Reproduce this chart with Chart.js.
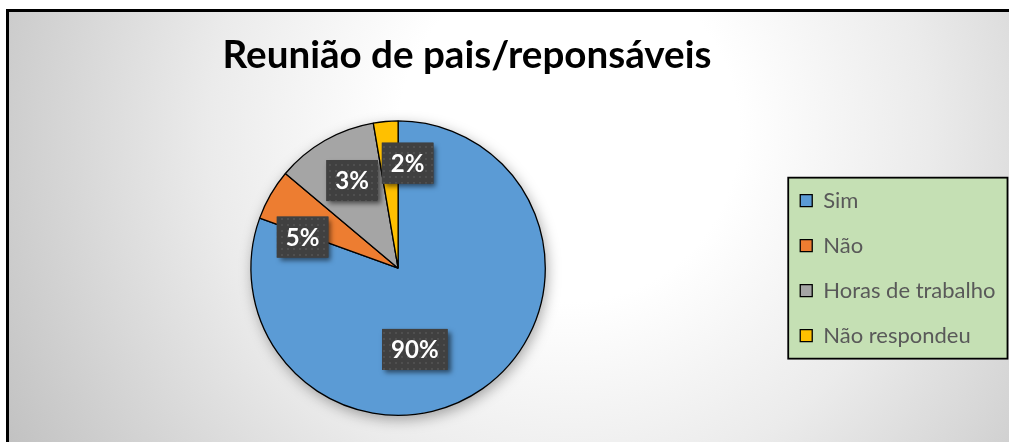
<!DOCTYPE html>
<html lang="pt">
<head>
<meta charset="utf-8">
<title>Reunião de pais/reponsáveis</title>
<script src="https://cdn.jsdelivr.net/npm/chart.js@4.4.0/dist/chart.umd.min.js"></script>
<style>
html,body{margin:0;padding:0;background:#fff;width:1009px;height:442px;overflow:hidden;}
#moldura{position:absolute;left:6px;top:9px;width:1010px;height:440px;
  border-left:3px solid #000;border-top:3px solid #000;
  background:radial-gradient(circle at 560px 120px,#ffffff 0px,#ffffff 170px,#ebebeb 360px,#c2c2c2 640px);}
#caixa{position:absolute;left:9px;top:12px;width:1000px;height:430px;}
</style>
</head>
<body>
<div id="moldura"></div>
<div id="caixa"><canvas id="grafico"></canvas></div>
<script>
(function(){
'use strict';

// dados
var categorias = ['Sim', 'Não', 'Horas de trabalho', 'Não respondeu'];
var fatias = [80.6, 5.6, 11.2, 2.7];          // tamanho visual de cada fatia
var rotulos = ['90%', '5%', '3%', '2%'];      // texto dos rótulos
var cores = ['#5b9bd5', '#ed7d31', '#a5a5a5', '#ffc000'];
var titulo = 'Reunião de pais/reponsáveis';

var FONTE = 'Lato';

// padrão pontilhado dos rótulos
function padraoPontos(ctx) {
  var c = document.createElement('canvas');
  c.width = 6; c.height = 6;
  var g = c.getContext('2d');
  g.fillStyle = '#404040';
  g.fillRect(0,0,6,6);
  g.fillStyle = '#4f4f4f';
  g.fillRect(2,2,2,2);
  return ctx.createPattern(c, 'repeat');
}

var sombraPizza = {
  id: 'sombraPizza',
  beforeDatasetsDraw: function(chart){
    var arc = chart.getDatasetMeta(0).data[0];
    if (!arc) return;
    var ctx = chart.ctx;
    ctx.save();
    ctx.shadowColor = 'rgba(0,0,0,0.35)';
    ctx.shadowBlur = 14;
    ctx.shadowOffsetX = 2;
    ctx.shadowOffsetY = 4;
    ctx.fillStyle = '#ffffff';
    ctx.beginPath();
    ctx.arc(arc.x, arc.y, arc.outerRadius, 0, Math.PI*2);
    ctx.fill();
    ctx.restore();
  }
};

var caixaLegenda = {
  id: 'caixaLegenda',
  beforeDraw: function(chart, args, opts){
    var hb = chart.legend && chart.legend.legendHitBoxes;
    if (!hb || !hb.length) return;
    var l = Infinity, t = Infinity, r = -Infinity, b = -Infinity;
    hb.forEach(function(h){
      l = Math.min(l, h.left); t = Math.min(t, h.top);
      r = Math.max(r, h.left + h.width); b = Math.max(b, h.top + h.height);
    });
    var m = opts.margem;
    var ctx = chart.ctx;
    ctx.save();
    ctx.fillStyle = '#c5e0b4';
    ctx.strokeStyle = '#000';
    ctx.lineWidth = 1.8;
    ctx.fillRect(l - m, t - m, r - l + 2*m, b - t + 2*m);
    ctx.strokeRect(l - m, t - m, r - l + 2*m, b - t + 2*m);
    ctx.restore();
  }
};

var moverTitulo = {
  id: 'moverTitulo',
  afterLayout: function(chart, args, opts){
    if (chart.titleBlock) chart.titleBlock.right = opts.direita;
  }
};

var rotulosPizza = {
  id: 'rotulosPizza',
  afterDatasetsDraw: function(chart, args, opts){
    var ctx = chart.ctx;
    var meta = chart.getDatasetMeta(0);
    var pad = padraoPontos(ctx);
    ctx.save();
    ctx.font = 'bold ' + opts.tamanho + 'px ' + FONTE;
    meta.data.forEach(function(arc, i){
      var meio = (arc.startAngle + arc.endAngle) / 2;
      var r = arc.outerRadius * opts.raio;
      var x = arc.x + Math.cos(meio) * r + opts.ajuste[i][0];
      var y = arc.y + Math.sin(meio) * r + opts.ajuste[i][1];
      var txt = rotulos[i];
      var w = ctx.measureText(txt).width + 2 * opts.folga;
      var h = opts.altura;
      ctx.save();
      ctx.shadowColor = 'rgba(0,0,0,0.55)';
      ctx.shadowBlur = 5;
      ctx.shadowOffsetX = 3;
      ctx.shadowOffsetY = 3;
      ctx.fillStyle = '#404040';
      ctx.fillRect(x - w/2, y - h/2, w, h);
      ctx.restore();
      ctx.fillStyle = pad;
      ctx.fillRect(x - w/2, y - h/2, w, h);
      ctx.fillStyle = '#ffffff';
      ctx.textAlign = 'center';
      ctx.textBaseline = 'middle';
      ctx.fillText(txt, x, y + 1);
    });
    ctx.restore();
  }
};

var ctx = document.getElementById('grafico').getContext('2d');
new Chart(ctx, {
  type: 'pie',
  data: {
    labels: categorias,
    datasets: [{
      data: fatias,
      backgroundColor: cores,
      borderColor: '#000000',
      borderWidth: 1.3,
      hoverOffset: 0
    }]
  },
  plugins: [sombraPizza, caixaLegenda, moverTitulo, rotulosPizza],
  options: {
    responsive: true,
    maintainAspectRatio: false,
    animation: false,
    events: [],
    layout: { padding: { left: 10, right: 3.5, top: 0, bottom: 26 } },
    plugins: {
      title: {
        display: true,
        text: titulo,
        color: '#000000',
        font: { family: FONTE, size: 38.6, weight: 'bold', lineHeight: 1.2 },
        padding: { top: 20, bottom: 42 }
      },
      legend: {
        position: 'right',
        fullSize: false,
        labels: {
          boxWidth: 12,
          boxHeight: 12,
          padding: 23,
          color: '#595959',
          font: { family: FONTE, size: 22 }
        }
      },
      tooltip: { enabled: false },
      caixaLegenda: { margem: 12 },
      moverTitulo: { direita: 906 },
      rotulosPizza: {
        tamanho: 24,
        folga: 9,
        altura: 41,
        raio: 0.6,
        ajuste: [[-34, 9], [-19, 13], [-2, -11], [17, -17]]
      }
    }
  }
});

})();
</script>
</body>
</html>
